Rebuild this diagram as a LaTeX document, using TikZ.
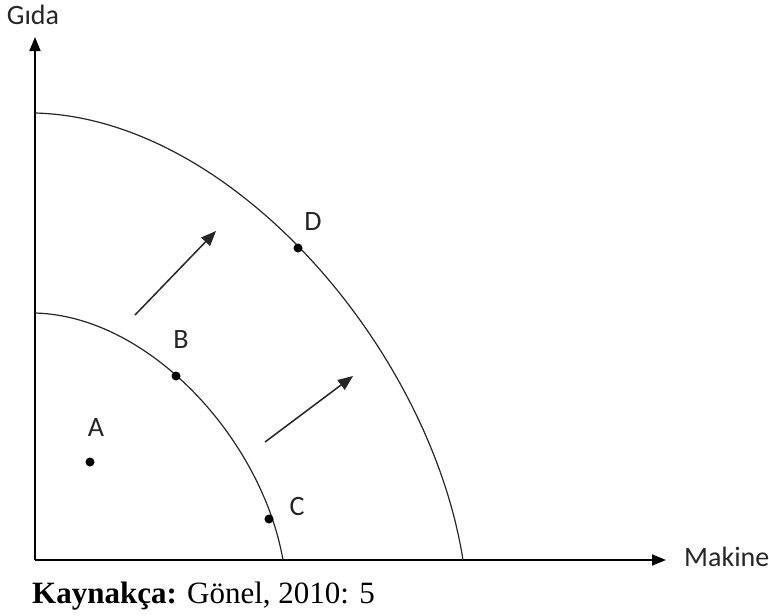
\documentclass[tikz,border=0pt]{standalone}
\usepackage{fontspec}
\setmainfont{Carlito}
\newfontfamily\capfont{Liberation Serif}
\usetikzlibrary{arrows.meta}
\begin{document}
\begin{tikzpicture}[x=1pt,y=-1pt,
  axis/.style={line width=1.6pt,-{Triangle[length=14pt,width=11pt]}},
  curve/.style={line width=1.2pt,draw=black!85},
  movearrow/.style={line width=1.5pt,draw=black!85,-{Triangle[length=15pt,width=12pt]}},
  pt/.style={circle,fill=black,inner sep=0pt,minimum size=9pt},
  lbl/.style={font=\fontsize{28}{30}\selectfont,text=black!85,inner sep=0pt},
]
\useasboundingbox (0,0) rectangle (769,616);
% axes
\coordinate (O) at (35,560);
\coordinate (ytop) at (35,37);
\coordinate (xend) at (666,560);
\draw[axis] (O) -- (ytop);
\draw[axis] (O) -- (xend);
\node[lbl,anchor=center] (gida) at (33,15) {Gıda};
\node[lbl,anchor=west] (makine) at (684,557) {Makine};
% curves
\coordinate (i0) at (35,313);
\coordinate (i1) at (283,560);
\draw[curve] (i0) .. controls (150,316) and (262,440) .. (i1);
\coordinate (o0) at (35,113);
\coordinate (o1) at (463,560);
\draw[curve] (o0) .. controls (233,118) and (430,350) .. (o1);
% arrows
\coordinate (a1s) at (135,315);
\coordinate (a1e) at (216,231);
\coordinate (a2s) at (265,442);
\coordinate (a2e) at (353,376);
\draw[movearrow] (a1s) -- (a1e);
\draw[movearrow] (a2s) -- (a2e);
% points
\node[pt] (A) at (90,462) {};
\node[pt] (B) at (176,376) {};
\node[pt] (C) at (269,519) {};
\node[pt] (D) at (298,248) {};
\node[lbl] (lA) at (96,428) {A};
\node[lbl] (lB) at (181,340) {B};
\node[lbl] (lC) at (297,507) {C};
\node[lbl] (lD) at (313,222) {D};
% caption
\node[anchor=base west,inner sep=0pt,font=\capfont\fontsize{31}{34}\selectfont] (cap) at (32,603) {\textbf{Kaynakça:} Gönel, 2010: 5};
\end{tikzpicture}
\end{document}
